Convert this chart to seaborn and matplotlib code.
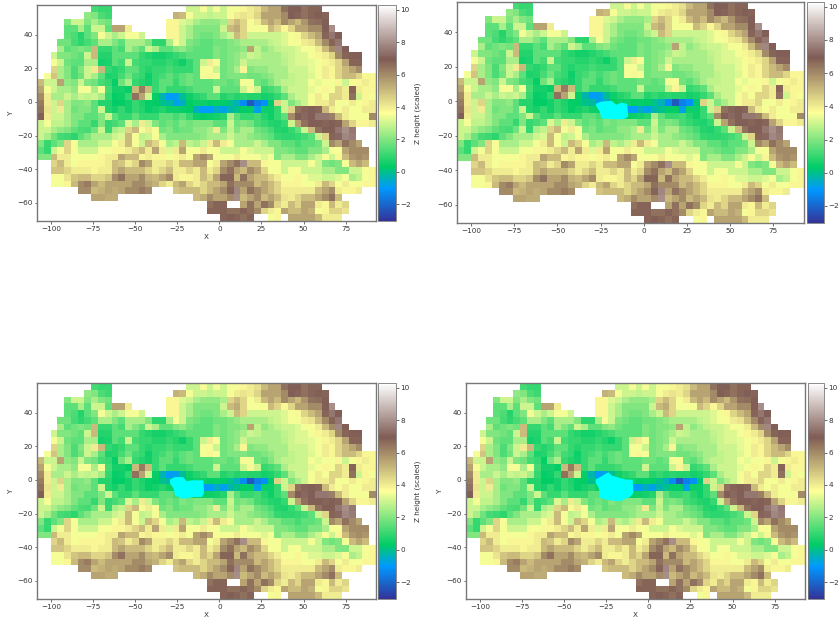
import numpy as np
import matplotlib
matplotlib.use("Agg")
import matplotlib.pyplot as plt
import seaborn as sns

n = np.nan

x_left, x_right = -108.3, 93.0
y_top, y_bottom = 57.6, -70.7
z_min, z_max = -3.03, 10.29

x_ticks = [-100, -75, -50, -25, 0, 25, 50, 75]
y_ticks = [40, 20, 0, -20, -40, -60]
z_ticks = [-2, 0, 2, 4, 6, 8, 10]

# heights, 50 columns by 32 rows, top row first
z_rows = [
    [n]*8 + [1.2,1,1] + [n]*11 + [3,3,3.5,3,3.5,3,3.5,3.5,3.8,4,4.3,5,5.5,5.5,6.5,7,7,6.5,6.8,6.8],
    [n]*7 + [2.2,2,1.3,1.1] + [n]*9 + [5.2,5,3.5,3,3,2.8,3,3,3.5,4,4.2,4,4.5,5.5,5.5,5.5,6,7,6.8,6.5,6.8,6.9,6.8],
    [n]*4 + [2,3,3,2,2.5,2,1.8] + [n]*8 + [3.8,3.8,3.2,3,2.5,2.2,2.2,2.2,2.5,4.5,5,4.5,3.5,4,5,5.5,5,6,5.5,5,5.8,6.5,6.6,6.9],
    [n]*4 + [1.5,1.5,2.5,1.5,3,3,1.5,5.5,5.5,4] + [n]*5 + [3.8,3.8,3,2.5,2,2,2,2,3,5,5.3,4.5,3.5,3.5,3.5,5,4.5,3.8,4.5,5.5,5.5,6,6,7,8],
    [n]*4 + [1.5,1.3,0.8,1.5,2,3.5,3,2.5,3,3.5,3.5,3,n,n,n,3.8,3.8,3,2.5,2,1.8,1.8,2,2.5,3,5,4.5,3,3,3,3,3,3.2,3.5,3.8,4.5,5,5.5,6.8,7.5,7],
    [n]*3 + [1.8,1.8,1.2,0.9,1.2,1.5,2.5,2.5,2,1.5,2.5,2.5,2.5,2,0.9,0.9,2.5,3.5,3,2,1.8,1.5,1.5,1.8,1.8,2,2.2,2.5,2.5,2.5,2.5,2.8,3,3.2,3.5,3.5,4,4.2,5,6,6.8,7.5],
    [n]*3 + [2.5,1.5,1.8,2,1.8,5,1,1,1.5,1.2,2.5,2,1.5,3,2.5,1.5,1.5,2,2.2,1.8,1.5,1.5,1.5,2,1.8,2,2,2.2,5.5,2.8,2.2,2.5,2.8,3,3,3.2,3.5,3.5,4,5,6,7.8,7],
    [n]*2 + [3,2,2,1.8,1.5,3,5,0.8,0.8,1.5,1.5,1.5,1.5,1,0.8,0.6,0.6,0.8,1,1.2,1.5,1.5,1.5,1.5,2,1.8,2,2.2,2.5,3,2.8,2.5,2.5,2.5,2.8,3,3.2,3.2,3.5,3.8,4,4.5,6,6.8,7,7],
    [n]*2 + [3.5,3,1.8,1.5,1.5,2.5,2.5,0.6,0.7,1.5,1.2,3,1.2,1,1,0.8,0.8,1,0.8,0.5,1,1.5,3,4,3.5,1.8,2,2.2,3,2.5,2.5,2.5,2.5,2.5,2.7,3,3.2,3.2,3.3,3.5,3.8,4,4.5,5.5,6.8,6.8],
    [n]*2 + [4.5,2.5,2,1.3,2,3,4,5,1,0.8,1,1.5,1.5,1,0.8,1,1,1.2,1,1,1,1.5,3.5,3.5,3,1.8,2,2.5,3.8,2,2.2,2.2,2.5,2.5,2.5,3,3,3,3.3,3.5,4,3.8,4.5,5,5.5,6],
    [n] + [3.5,4.8,2.5,2,1.3,1.8,3,2.5,1.5,0.7,0.8,1.2,1.8,1.2,1,0.5,1,1.2,1.5,1.2,1.5,1.8,1.5,3.5,3.8,3.5,1.8,2,2,2,1.8,1.8,2,2.2,2.5,2.5,2.8,3,3,3.2,3.5,4,3.8,4.5,5,5,4.5,3.8,3.8],
    [5,3,3,5.5,2.2,2,3,2,1.8,1.2,1,0.4,1.8,2.5,1,0.8,0.6,1,1.5,1.5,1,1.5,1.8,1.5,1.5,1.5,1.8,1.8,1.5,1.8,3.5,3.5,1.8,1.5,2,2.5,2.8,2.8,3,3,3.5,3.3,3.5,3.5,3.8,3,3.5,3.8,4,3.8],
    [5.5,3.5,3,2.5,2.5,2.2,3.5,3.5,2.5,3.5,1.2,0.6,0.6,0.4,5,6.3,5,1,1.5,1,1,1,1.2,1.5,1.5,1.5,3,1.5,1.5,1.5,3,3.8,3,1,1.2,1.5,2.5,3,3,3,3.3,3.5,3.8,3.5,4.5,4,6.8,4,3.8,3.8],
    [6,4,2.5,2.5,3,2.5,3,2.8,3,2.5,1,0.4,0.5,1,6.5,5.5,3,0.4,-0.3,-1,-0.8,-0.1,0.5,0.8,1,1.5,1.5,0.8,1,0.8,0.9,0.8,0.8,0.6,0.7,1,1.5,2.5,3,3,3.5,4,3.5,4.5,4.5,4,6.5,3,3.8,3.5],
    [6.3,4,3,4.5,2.5,2,2,2.2,1.5,0.8,0.8,0.3,0.3,0.6,1,0.7,0.4,0.3,0,-0.2,-0.8,-0.5,0.3,0.5,0.5,0.3,0.4,0.3,0,-0.4,-1.3,-2.3,-1.5,-1.2,0.2,4.5,3,2,2.5,3,3.5,4,4,4.5,3.5,3.5,4,3.5,3.8,4],
    [6.5,4.2,3,4,2.5,1.8,2,2,1.5,3,0.8,0.6,1,0.6,1,0.8,0.4,0.6,0.8,0.5,0.5,0.4,0.3,-0.5,-1,-1,-0.5,-0.8,-0.3,0,0.3,0.3,-0.8,0.5,0.5,1,3,4.5,6.5,6.8,7,6.8,5,4,3.5,4,3.5,3.5,4,4],
    [7,4,3,3,2.5,2,2,1.5,1.5,2,3,1.5,1,1,1.5,1,1,1,1.5,1.5,1.2,1.5,1,0.5,0.4,0.5,0.6,0.8,2.5,1.5,1,1,1.2,0.8,0.5,1,1.5,6,7,7.2,7,7.5,7.5,6.2,5,4,3.5,3.5,3.5,6],
    [3,3.5,2.8,2.8,2.5,2,1.5,1.5,1,2,1,1.2,1.5,3.2,2.5,4,3,2,1.5,1.8,1.5,2,1.8,2,2,2,1.5,1.5,3,1.8,2,1.8,1.2,1,0.8,0.7,1,3,5.5,6.5,7,7,6.8,7,6.8,5.5,4.5,3.8,3.8,4],
    [3,3,2.5,2.2,2,1.6,1.3,1.2,1.8,3,1,2.5,2.8,4.5,5,3.5,4,3.5,1.8,2,1.5,1.8,1.8,2.2,2.2,2.5,4,2,2.8,2,2.5,2.5,1.8,1.5,1.2,0.8,0.7,1,1.5,3,5,6.5,7,7,7.5,8,7.5],
    [3,2.5,1.8,1.2,1.1,0.9,1.5,2,2.5,2.5,2.5,3,3.2,5,3.5,2.8,3,3.5,2.5,2,2,2,2,2,2.2,2.5,2.5,2.5,3,2.5,2.5,2.2,2,1.8,1.5,1,0.9,0.9,1,1.2,1.5,3,4.5,6.8,7.2,7.8,7.6],
    [2,1,1.5,2,4.5,3.5,2.5,2.5,2.5,3,3,3.5,4,5,3.5,3,5,4.5,3.5,2.5,2.8,5,2.8,2.5,3,4,5,4,3.5,2.5,2.5,2.5,3,2.5,2,2,1.5,1.5,1.2,1.5,1.5,1.8,3,6,5.5,6.5,6,5.5],
    [1.5,1,3,3.5,4.5,3.5,3,3,3,3.5,3.5,3.8,3.8,4,4.5,5,4,5.5,4,3.2,4,5.5,3.5,3.5,4,3.5,3.5,3,3,3,3.5,3.2,3,3,3,2,2,1.8,1.5,1.5,2,2,2.5,3.5,3.5,5.5,6,6,6],
    [2,2,5,4,4,3.5,3.5,3.5,3.5,3.8,4,4,5.5,5,5,3.8,4,3.8,3.8,3.5,3.8,4,3.5,5.5,6,5.5,3.5,3.5,3.5,4,3.5,3.5,3.5,3.2,3.5,2,2.5,2.5,2,2,2.5,3,3.5,3,3.8,5,5.8,6,5.8],
    [n]*2 + [4.5,5,4,3.5,3.8,3.8,3.8,3.8,4,5,4.8,4,4.5,6,5.5,4,4,4.5,4,5,5,5.5,5.5,3.5,4,5.5,6,6.5,8,5,5,3.8,3.5,3.5,3,3,3,3,3.5,3,2,1.8,2,3.5,5,5.5,5],
    [n]*2 + [4.8,4.8,4.5,4,4,4,3.8,4,4,5,5.5,5,5,5,4.5,4,4.5,5,4,4,4.5,4,5,4,4.5,6,6.5,5.5,5,6,5.5,4.5,3.5,3.5,3,3.5,3.5,3,3,3,2.5,2.5,2,2,3,3,3.5,3.8],
    [n]*2 + [3.5,3.5,4.2,4.8,5,5,4.5,4.5,4.8,6,6.5,5.5,5.5,6,5.2,5,5.5,6,4,3.8,3.8,4,5,4.5,5.5,6.8,6.8,5,6.5,5.5,5,5,4.5,4,3.5,3.5,3.8,3.5,3.2,3.2,3,3,3.2,3.5,2.5,2.8,3.5,3.8],
    [n]*2 + [3.5,3.5,3.8,5,6,6.3,5.5,5,5.5,5.5,5.5,5.5,6,6,5.5,5.2,4.5,4,5,5.5,4.5,4,4.5,5,5,5.5,6.5,6,6,6,5,5.5,5,4.5,3.8,3.8,3.8,3.5,3.5,4,5,4.5,3.5,4,3.5,3.5,3.8,3.8],
    [n]*6 + [6,6,5,5.2,5.5,5.3,5.5,6,6,6.3,6] + [n]*3 + [4.8,5,5,5,4.5,5,5.5,6,6.8,7.8,5.5,6.5,6,5.5,5,4.5,4,4,4,4,4,5,5.5,6,4,3.8,3.8,4],
    [n]*8 + [5.5,5.5,5.3,5.3] + [n]*11 + [5,5.3,6,5.5,5.5,6,8,5,5.5,6,5,5.5,5,4.2,4,4.5,5,5,5.5,6,6.5,5],
    [n]*25 + [6.5,6.8,6.8,n,n,5.5,6.5,5.5,6.5,6,4.5,4,5,4.5,5.5,5.5,4,3.8,5,4,4.5],
    [n]*25 + [6.8,6.8,6.8,6.5,6.5,6.8,6.5,6,4.5,4,3.8,5.5,5,5,5.5,5.2,3.5,3.8,4.5,4.5,4.2],
    [n]*27 + [6.8,6.9,6.8,6.5,6.8,n,n,3.5,3.8,n,5.5,5.5,5.5,5.5,5,4,4,4],
]

# outline of the cyan area in the three later panels
cyan_tr_x = [-27.8,-24.5,-18.7,-15.8,-12.9,-9.6,-9,-11.5,-17.7,-24.5,-25.5,-27.4]
cyan_tr_y = [-1.5,-0.2,0.2,-2.1,-0.8,-1.5,-8.9,-10.4,-10.4,-10,-6,-3.1]
cyan_bl_x = [-29.3,-26.3,-21.4,-19.4,-16.4,-9.5,-9.1,-10.5,-15.4,-21.4,-26.3,-27.3,-29.3]
cyan_bl_y = [0.2,1.8,1.6,-0.8,-0.2,-0.2,-7.8,-10.1,-10.1,-11.3,-9.3,-4.8,-2.2]
cyan_br_x = [-31.3,-27.8,-23.8,-21.8,-16.9,-12.9,-9.3,-8.9,-10.9,-16.9,-22.8,-28.8,-29.4,-31.3]
cyan_br_y = [0.2,2.2,4.6,2.6,1.2,0.2,0.2,-7.7,-10.1,-12.7,-12.1,-10.7,-4.8,-1.8]

z = np.array([r + [n]*(50 - len(r)) for r in z_rows], dtype=float)
nrows, ncols = z.shape


def col_of(x):
    return (np.asarray(x) - x_left) / (x_right - x_left) * ncols


def row_of(y):
    return (y_top - np.asarray(y)) / (y_top - y_bottom) * nrows


sns.set_theme(style="white", rc={"axes.edgecolor": "#777777", "axes.linewidth": 1.0,
                                 "text.color": "#333333", "axes.labelcolor": "#333333",
                                 "xtick.color": "#333333", "ytick.color": "#333333"})

W, H = 838, 621
fig = plt.figure(figsize=(W / 100, H / 100), dpi=100)

# left, right, top, bottom, colorbar left, colorbar right, cyan, x label, y label, bar label
panels = [
    (37, 376, 5, 221, 378, 396, None, None, True, True, True),
    (457, 804, 2, 223, 807, 824, cyan_tr_x, cyan_tr_y, False, False, False),
    (37, 376, 383, 599, 378, 396, cyan_bl_x, cyan_bl_y, True, True, True),
    (466, 805, 383, 599, 808, 824, cyan_br_x, cyan_br_y, True, True, False),
]

for l, r, t, b, cl, cr, cx, cy, xlab, ylab, barlab in panels:
    ax = fig.add_axes([l / W, 1 - b / H, (r - l) / W, (b - t) / H])
    cax = fig.add_axes([cl / W, 1 - b / H, (cr - cl) / W, (b - t) / H])
    sns.heatmap(z, ax=ax, cbar_ax=cax, cmap="terrain", vmin=z_min, vmax=z_max,
                xticklabels=False, yticklabels=False, cbar_kws={"ticks": z_ticks})
    if cx is not None:
        ax.fill(col_of(cx), row_of(cy), color="cyan", lw=0, zorder=3)

    ax.set_xlim(0, ncols)
    ax.set_ylim(nrows, 0)
    ax.set_xticks(col_of(x_ticks))
    ax.set_xticklabels([str(v).replace("-", "\u2212") for v in x_ticks])
    ax.set_yticks(row_of(y_ticks))
    ax.set_yticklabels([str(v).replace("-", "\u2212") for v in y_ticks], rotation=0)
    ax.tick_params(labelsize=5.2, length=1.8, width=0.5, pad=1.5, left=True, bottom=True)
    for s in ax.spines.values():
        s.set_visible(True)
        s.set_color("#777777")
        s.set_linewidth(1.0)
        s.set_zorder(5)
    if xlab:
        ax.set_xlabel("X", fontsize=5.2, labelpad=2)
    if ylab:
        ax.set_ylabel("Y", fontsize=5.2, labelpad=2)

    cb = ax.collections[0].colorbar
    cb.ax.set_yticklabels([str(v).replace("-", "\u2212") for v in z_ticks])
    cb.ax.tick_params(labelsize=5.2, length=1.8, width=0.5, pad=1.5, right=True)
    cb.outline.set_visible(True)
    cb.outline.set_edgecolor("#777777")
    cb.outline.set_linewidth(0.6)
    if barlab:
        cb.set_label("Z height (scaled)", fontsize=5.2, labelpad=2)

fig.savefig("out.png", dpi=100)
